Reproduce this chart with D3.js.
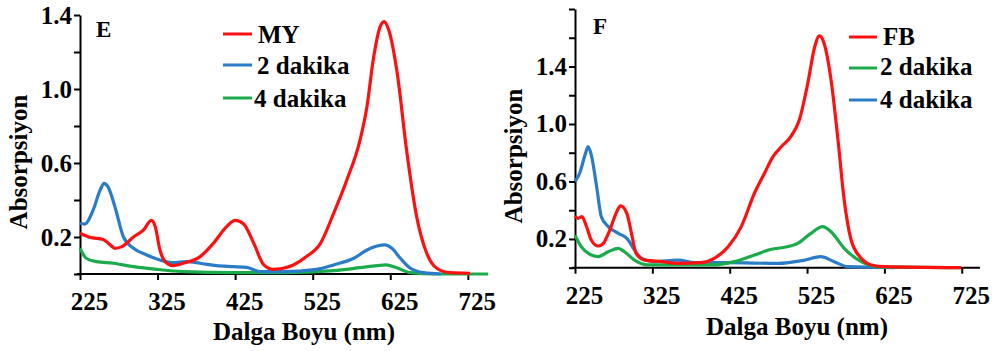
<!DOCTYPE html>
<html>
<head>
<meta charset="utf-8">
<script src="https://d3js.org/d3.v7.min.js"></script>
<style>
  body { margin: 0; background: #fff; }
  svg text {
    font-family: "Liberation Serif", "Times New Roman", serif;
    font-weight: bold;
    fill: #000;
  }
  .axis path, .axis line { stroke: #000; stroke-width: 2px; }
  .curve { fill: none; stroke-width: 3.2px; stroke-linejoin: round; }
</style>
</head>
<body>
<script>
// panel E : [wavelength nm, absorbance]
var myData = [[225,0.22],[238,0.198],[255,0.187],[264,0.157],[270,0.139],[279,0.148],[294,0.2],[307,0.238],[317,0.29],[322,0.256],[328,0.13],[337,0.058],[345,0.045],[358,0.058],[380,0.094],[397,0.166],[414,0.256],[425,0.29],[436,0.27],[449,0.166],[462,0.049],[474,0.025],[487,0.031],[500,0.049],[517,0.094],[535,0.166],[552,0.328],[569,0.508],[586,0.724],[595,0.905],[603,1.157],[612,1.337],[617,1.364],[623,1.319],[634,1.085],[646,0.67],[659,0.31],[672,0.112],[685,0.031],[702,0.007],[728,0.004]];
var my2min = [[225,0.274],[231,0.27],[242,0.346],[251,0.454],[256,0.49],[261,0.472],[270,0.364],[281,0.2],[294,0.139],[311,0.103],[328,0.076],[345,0.061],[362,0.067],[380,0.058],[401,0.045],[423,0.04],[440,0.036],[457,0.013],[487,0.013],[530,0.025],[552,0.049],[578,0.085],[595,0.13],[608,0.151],[618,0.157],[627,0.139],[638,0.085],[651,0.031],[668,0.007],[690,0.0]];
var my4min = [[225,0.139],[233,0.085],[246,0.067],[268,0.058],[294,0.04],[324,0.025],[358,0.013],[423,0.007],[487,0.007],[552,0.018],[586,0.034],[608,0.045],[620,0.049],[633,0.034],[651,0.007],[681,0.0],[751,0.0]];

// panel F
var fbData = [[225,0.36],[229,0.343],[234,0.355],[240,0.285],[246,0.193],[255,0.151],[261,0.165],[270,0.262],[279,0.39],[284,0.43],[292,0.378],[298,0.239],[304,0.1],[315,0.053],[337,0.042],[358,0.03],[388,0.035],[405,0.065],[423,0.146],[440,0.286],[457,0.518],[470,0.657],[481,0.773],[492,0.843],[504,0.912],[515,1.028],[526,1.284],[535,1.539],[541,1.613],[547,1.562],[556,1.307],[565,0.889],[573,0.471],[582,0.193],[595,0.065],[608,0.019],[625,0.007],[724,0.0]];
var fb2min = [[225,0.227],[233,0.146],[246,0.088],[255,0.077],[268,0.111],[281,0.135],[289,0.111],[302,0.053],[319,0.019],[358,0.019],[401,0.019],[431,0.042],[457,0.088],[479,0.128],[496,0.142],[513,0.169],[530,0.239],[545,0.286],[556,0.25],[573,0.135],[595,0.042],[616,0.007],[724,0.0]];
var fb4min = [[225,0.6],[231,0.657],[238,0.785],[242,0.843],[246,0.785],[253,0.564],[259,0.355],[268,0.286],[281,0.239],[292,0.204],[302,0.123],[311,0.065],[328,0.042],[358,0.053],[380,0.035],[423,0.035],[487,0.03],[522,0.053],[543,0.077],[560,0.042],[578,0.007],[638,0.0]];

var xTicks = [225, 325, 425, 525, 625, 725];
var yLabelled = [0.2, 0.6, 1.0, 1.4];

var RED = "#ff1010", BLUE = "#2a7cc8", GREEN = "#1aab4b";

var svg = d3.select("body").append("svg")
    .attr("width", 995)
    .attr("height", 351);

function drawPanel(p) {
  var x = d3.scaleLinear().domain(p.xDomain).range(p.xRange);
  var y = d3.scaleLinear().domain(p.yDomain).range(p.yRange);
  var g = svg.append("g");

  var yTicks = d3.range(0, p.yDomain[1] + 0.001, 0.2);

  var xAxis = g.append("g")
      .attr("class", "axis")
      .attr("transform", "translate(0," + p.yRange[0] + ")")
      .call(d3.axisBottom(x).tickValues(xTicks).tickSize(6).tickSizeOuter(0));
  xAxis.selectAll("text")
      .attr("y", 36).attr("dy", 0).attr("dx", 9)
      .style("font-size", "25px");
  xAxis.select(".domain").attr("d", "M" + (p.xRange[0] - 3) + ",0H" + p.xRange[1]);

  var yAxis = g.append("g")
      .attr("class", "axis")
      .attr("transform", "translate(" + p.xRange[0] + ",0)")
      .call(d3.axisLeft(y).tickValues(yTicks).tickSize(6).tickSizeOuter(0)
        .tickFormat(function(d) {
          return yLabelled.some(function(v) { return Math.abs(v - d) < 1e-6; }) ? d3.format(".1f")(d) : "";
        }));
  yAxis.selectAll("text")
      .attr("x", -8)
      .style("font-size", "25px");

  var line = d3.line()
      .curve(d3.curveMonotoneX)
      .x(function(d) { return x(d[0]); })
      .y(function(d) { return y(d[1]); });

  // draw order: back to front
  p.series.slice().reverse().forEach(function(s) {
    g.append("path")
        .attr("class", "curve")
        .attr("stroke", s.color)
        .attr("d", line(s.data));
  });

  // panel letter
  g.append("text")
      .attr("x", p.letterPos[0]).attr("y", p.letterPos[1])
      .style("font-size", "23px")
      .text(p.letter);

  // axis titles
  g.append("text")
      .attr("transform", "translate(" + p.yTitle[0] + "," + p.yTitle[1] + ") rotate(-90)")
      .attr("text-anchor", "middle")
      .style("font-size", "25px")
      .text("Absorpsiyon");
  g.append("text")
      .attr("x", p.xTitle[0]).attr("y", p.xTitle[1])
      .attr("text-anchor", "middle")
      .style("font-size", "25px")
      .text("Dalga Boyu (nm)");

  // legend
  p.series.forEach(function(s, i) {
    var ly = p.legendY[i];
    g.append("line")
        .attr("x1", p.legendX[0]).attr("x2", p.legendX[1])
        .attr("y1", ly).attr("y2", ly)
        .attr("stroke", s.color).attr("stroke-width", 3);
    g.append("text")
        .attr("x", p.legendText[i][0]).attr("y", p.legendText[i][1])
        .style("font-size", "25px")
        .text(s.name);
  });
}

drawPanel({
  xDomain: [225, 751], xRange: [80, 488],
  yDomain: [0, 1.4], yRange: [274, 15],
  letter: "E", letterPos: [96, 37],
  yTitle: [27, 162], xTitle: [304, 340],
  legendX: [223, 252], legendY: [34, 65, 98],
  legendText: [[258, 43], [257, 74], [254, 107]],
  series: [
    {name: "MY", color: RED, data: myData},
    {name: "2 dakika", color: BLUE, data: my2min},
    {name: "4 dakika", color: GREEN, data: my4min}
  ]
});

drawPanel({
  xDomain: [225, 748.6], xRange: [575, 980],
  yDomain: [0, 1.8], yRange: [267.7, 9],
  letter: "F", letterPos: [593, 34],
  yTitle: [522, 156], xTitle: [797, 335],
  legendX: [849, 877], legendY: [37, 68, 100],
  legendText: [[883, 45], [880, 75], [880, 108]],
  series: [
    {name: "FB", color: RED, data: fbData},
    {name: "2 dakika", color: GREEN, data: fb2min},
    {name: "4 dakika", color: BLUE, data: fb4min}
  ]
});
</script>
</body>
</html>
